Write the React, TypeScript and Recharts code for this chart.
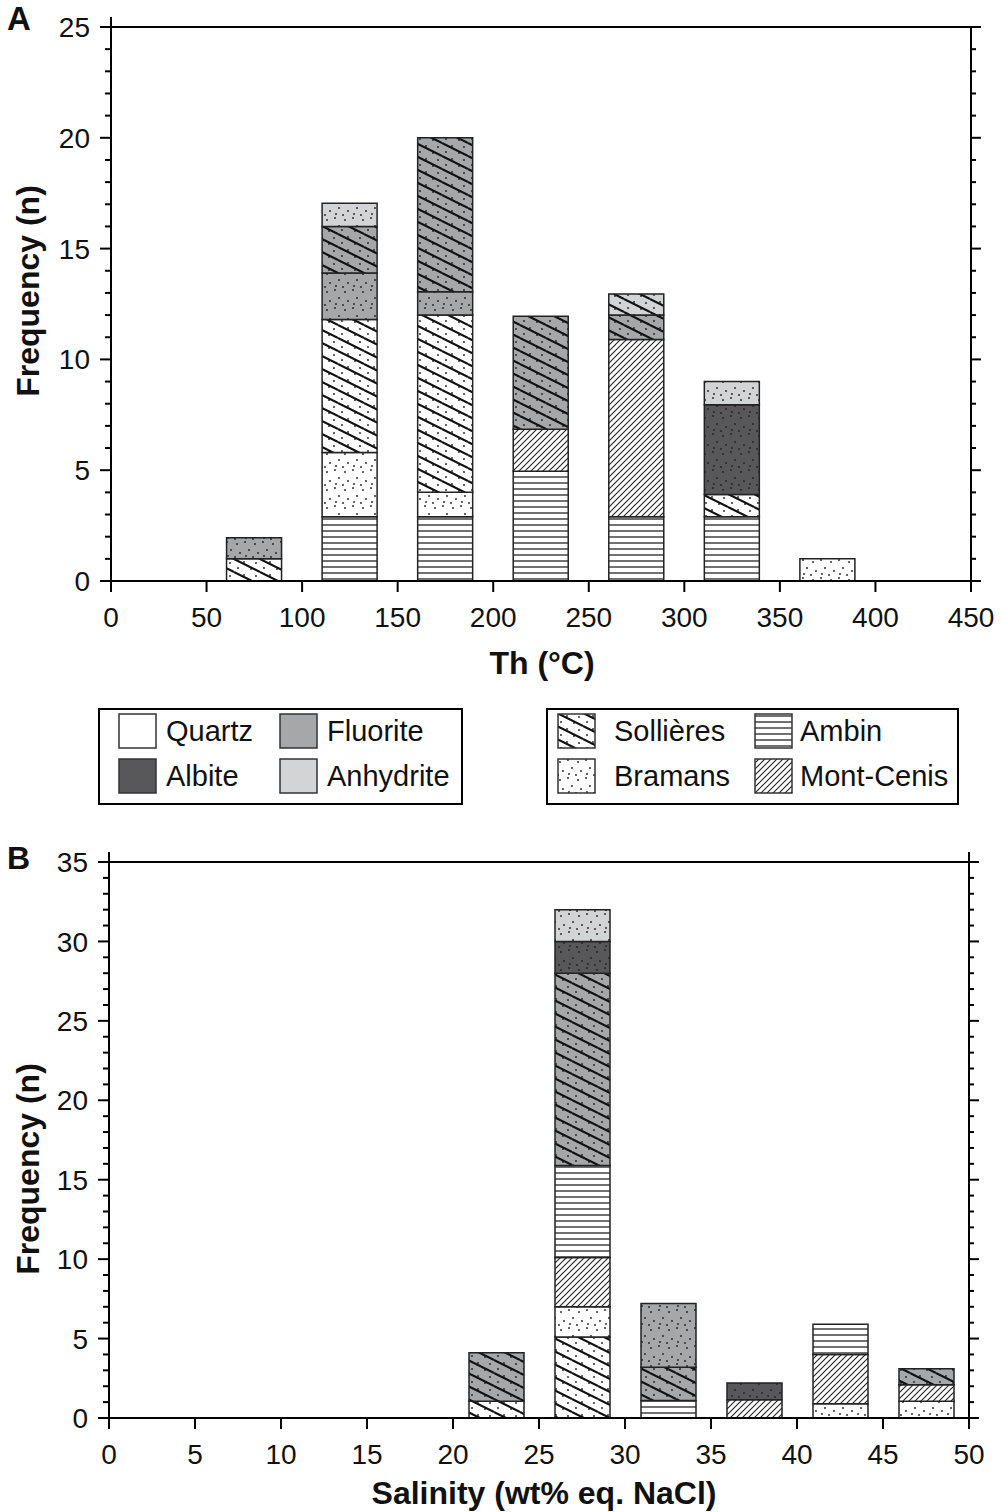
import React from 'react';
import { BarChart, Bar, XAxis, YAxis } from 'recharts';

// Panel A: homogenisation temperature histogram (bin centres, °C)
const thBins = [75, 125, 175, 225, 275, 325, 375];
const thQuartzAmbin = [0, 2.9, 2.9, 4.95, 2.9, 2.9, 0];
const thQuartzBramans = [0, 2.9, 1.1, 0, 0, 0, 1];
const thQuartzSollieres = [1, 6, 8, 0, 0, 1, 0];
const thQuartzMontCenis = [0, 0, 0, 1.9, 8, 0, 0];
const thFluoriteBramans = [0.95, 2.1, 1.05, 0, 0, 0, 0];
const thFluoriteSollieres = [0, 2.1, 6.95, 5.1, 1.1, 0, 0];
const thAlbiteBramans = [0, 0, 0, 0, 0, 4.05, 0];
const thAnhydriteSollieres = [0, 0, 0, 0, 0.95, 0, 0];
const thAnhydriteBramans = [0, 1.05, 0, 0, 0, 1.05, 0];
const thXTicks = [0, 50, 100, 150, 200, 250, 300, 350, 400, 450];
const thYTicks = [0, 1, 2, 3, 4, 5, 6, 7, 8, 9, 10, 11, 12, 13, 14, 15, 16, 17, 18, 19, 20, 21, 22, 23, 24, 25];

// Panel B: salinity histogram (bin centres, wt% eq. NaCl)
const salBins = [22.5, 27.5, 32.5, 37.5, 42.5, 47.5];
const salQuartzSollieres = [1.05, 5.1, 0, 0, 0, 0];
const salQuartzBramans = [0, 1.9, 0, 0, 0.9, 1.05];
const salQuartzMontCenis = [0, 3.1, 0, 1.15, 3.1, 1.05];
const salQuartzAmbin = [0, 5.8, 1.1, 0, 1.9, 0];
const salFluoriteSollieres = [3.05, 12.1, 2.1, 0, 0, 1.0];
const salFluoriteBramans = [0, 0, 4.0, 0, 0, 0];
const salAlbiteBramans = [0, 2, 0, 1.05, 0, 0];
const salAnhydriteBramans = [0, 2, 0, 0, 0, 0];
const salXTicks = [0, 5, 10, 15, 20, 25, 30, 35, 40, 45, 50];
const salYTicks = [0, 1, 2, 3, 4, 5, 6, 7, 8, 9, 10, 11, 12, 13, 14, 15, 16, 17, 18, 19, 20, 21, 22, 23, 24, 25, 26, 27, 28, 29, 30, 31, 32, 33, 34, 35];

const FONT = 'Arial, "Liberation Sans", Helvetica, sans-serif';

const MINERAL_COLORS: Record<string, string> = {
  quartz: '#ffffff',
  fluorite: '#a6a7a9',
  albite: '#58585a',
  anhydrite: '#d3d4d6',
};

// decorative dot positions inside the pattern tiles
const SOL_DOTS = [[4, 9], [10, 3], [17, 10], [22, 4]];
const BRAM_DOTS = [[3, 4], [11, 2], [15, 10], [6, 13], [12, 16], [1, 17]];

const thSeries = [
  { key: 'qAmb', values: thQuartzAmbin, pattern: 'quartz-amb' },
  { key: 'qBram', values: thQuartzBramans, pattern: 'quartz-bram' },
  { key: 'qSol', values: thQuartzSollieres, pattern: 'quartz-sol' },
  { key: 'qMc', values: thQuartzMontCenis, pattern: 'quartz-mc' },
  { key: 'fBram', values: thFluoriteBramans, pattern: 'fluorite-bram' },
  { key: 'fSol', values: thFluoriteSollieres, pattern: 'fluorite-sol' },
  { key: 'aBram', values: thAlbiteBramans, pattern: 'albite-bram' },
  { key: 'anSol', values: thAnhydriteSollieres, pattern: 'anhydrite-sol' },
  { key: 'anBram', values: thAnhydriteBramans, pattern: 'anhydrite-bram' },
];

const salSeries = [
  { key: 'qSol', values: salQuartzSollieres, pattern: 'quartz-sol' },
  { key: 'qBram', values: salQuartzBramans, pattern: 'quartz-bram' },
  { key: 'qMc', values: salQuartzMontCenis, pattern: 'quartz-mc' },
  { key: 'qAmb', values: salQuartzAmbin, pattern: 'quartz-amb' },
  { key: 'fSol', values: salFluoriteSollieres, pattern: 'fluorite-sol' },
  { key: 'fBram', values: salFluoriteBramans, pattern: 'fluorite-bram' },
  { key: 'aBram', values: salAlbiteBramans, pattern: 'albite-bram' },
  { key: 'anBram', values: salAnhydriteBramans, pattern: 'anhydrite-bram' },
];

const buildRows = (bins: number[], series: { key: string; values: number[] }[]) =>
  bins.map((bin, i) => {
    const row: { [k: string]: number } = { bin };
    series.forEach((s) => {
      row[s.key] = s.values[i];
    });
    return row;
  });

const thData = buildRows(thBins, thSeries);
const salData = buildRows(salBins, salSeries);

const PatternDefs = () => (
  <svg width={0} height={0} style={{ position: 'absolute' }}>
    <defs>
      {Object.keys(MINERAL_COLORS).map((m) => (
        <React.Fragment key={m}>
          <pattern id={`${m}-sol`} patternUnits="userSpaceOnUse" width={26} height={13}>
            <rect width={26} height={13} fill={MINERAL_COLORS[m]} />
            {SOL_DOTS.map(([cx, cy], i) => (
              <circle key={i} cx={cx} cy={cy} r={0.95} fill="#222" />
            ))}
            <path d="M0,-13L26,0M0,0L26,13M0,13L26,26" stroke="#111" strokeWidth={2.1} />
          </pattern>
          <pattern id={`${m}-bram`} patternUnits="userSpaceOnUse" width={18} height={18}>
            <rect width={18} height={18} fill={MINERAL_COLORS[m]} />
            {BRAM_DOTS.map(([cx, cy], i) => (
              <circle key={i} cx={cx} cy={cy} r={0.95} fill="#222" />
            ))}
          </pattern>
          <pattern id={`${m}-amb`} patternUnits="userSpaceOnUse" width={6} height={6}>
            <rect width={6} height={6} fill={MINERAL_COLORS[m]} />
            <line x1={0} x2={6} y1={3} y2={3} stroke="#333" strokeWidth={1.4} />
          </pattern>
          <pattern id={`${m}-mc`} patternUnits="userSpaceOnUse" width={6} height={6}>
            <rect width={6} height={6} fill={MINERAL_COLORS[m]} />
            <path d="M-1,1L1,-1M0,6L6,0M5,7L7,5" stroke="#222" strokeWidth={1.1} />
          </pattern>
        </React.Fragment>
      ))}
    </defs>
  </svg>
);

const tickText = { fontFamily: FONT, fontSize: 28, fill: '#111' };

const LeftTick = ({ x, y, payload }: any) => {
  const major = payload.value % 5 === 0;
  return (
    <g>
      <line x1={x - (major ? 11 : 6)} x2={x} y1={y} y2={y} stroke="#000" strokeWidth={2} />
      {major && (
        <text x={x - 21} y={y} dy="0.36em" textAnchor="end" style={tickText}>
          {payload.value}
        </text>
      )}
    </g>
  );
};

const RightTick = ({ x, y, payload }: any) => {
  const major = payload.value % 5 === 0;
  return <line x1={x} x2={x + (major ? 10 : 5)} y1={y} y2={y} stroke="#000" strokeWidth={2} />;
};

const BottomTick = ({ x, y, payload }: any) => (
  <g>
    <line x1={x} x2={x} y1={y} y2={y + 11} stroke="#000" strokeWidth={2} />
    <text x={x} y={y + 36} dy="0.36em" textAnchor="middle" style={tickText}>
      {payload.value}
    </text>
  </g>
);

const TopTick = ({ x, y }: any) => <line x1={x} x2={x} y1={y - 10} y2={y} stroke="#000" strokeWidth={2} />;

const axisLine = { stroke: '#000', strokeWidth: 2 };

interface HistProps {
  data: { [k: string]: number }[];
  series: { key: string; pattern: string }[];
  xDomain: [number, number];
  yDomain: [number, number];
  xTicks: number[];
  yTicks: number[];
  height: number;
  margin: { top: number; right: number; bottom: number; left: number };
  yAxisWidth: number;
  stackId: string;
}

const Histogram = ({ data, series, xDomain, yDomain, xTicks, yTicks, height, margin, yAxisWidth, stackId }: HistProps) => (
  <BarChart width={1001} height={height} data={data} margin={margin} barGap={0}>
    <XAxis
      dataKey="bin"
      type="number"
      domain={xDomain}
      ticks={xTicks}
      interval={0}
      allowDataOverflow
      height={80}
      tickSize={0}
      tickMargin={0}
      axisLine={axisLine}
      tick={<BottomTick />}
    />
    <XAxis
      xAxisId="top"
      orientation="top"
      type="number"
      domain={xDomain}
      ticks={xTicks}
      interval={0}
      allowDataOverflow
      height={15}
      tickSize={0}
      tickMargin={0}
      axisLine={axisLine}
      tick={<TopTick />}
    />
    <YAxis
      type="number"
      domain={yDomain}
      ticks={yTicks}
      interval={0}
      allowDataOverflow
      width={yAxisWidth}
      tickSize={0}
      tickMargin={0}
      axisLine={axisLine}
      tick={<LeftTick />}
    />
    <YAxis
      yAxisId="right"
      orientation="right"
      type="number"
      domain={yDomain}
      ticks={yTicks}
      interval={0}
      allowDataOverflow
      width={15}
      tickSize={0}
      tickMargin={0}
      axisLine={axisLine}
      tick={<RightTick />}
    />
    {series.map((s) => (
      <Bar
        key={s.key}
        dataKey={s.key}
        stackId={stackId}
        fill={`url(#${s.pattern})`}
        stroke="#222"
        strokeWidth={1.5}
        barSize={55}
        isAnimationActive={false}
      />
    ))}
  </BarChart>
);

const legendText: React.CSSProperties = {
  position: 'absolute',
  fontFamily: FONT,
  fontSize: 29,
  color: '#111',
  lineHeight: '32px',
  whiteSpace: 'nowrap',
};

const Swatch = ({ left, top, fill }: { left: number; top: number; fill: string }) => (
  <svg width={39} height={36} style={{ position: 'absolute', left, top }}>
    <rect x={1} y={1} width={37} height={34} fill={fill} stroke="#333" strokeWidth={1.5} />
  </svg>
);

const mineralLegend = [
  { label: 'Quartz', fill: MINERAL_COLORS.quartz, sx: 118, tx: 166, row: 0 },
  { label: 'Fluorite', fill: MINERAL_COLORS.fluorite, sx: 279, tx: 327, row: 0 },
  { label: 'Albite', fill: MINERAL_COLORS.albite, sx: 118, tx: 166, row: 1 },
  { label: 'Anhydrite', fill: MINERAL_COLORS.anhydrite, sx: 279, tx: 327, row: 1 },
];

const localityLegend = [
  { label: 'Sollières', fill: 'url(#quartz-sol)', sx: 557, tx: 614, row: 0 },
  { label: 'Ambin', fill: 'url(#quartz-amb)', sx: 754, tx: 800, row: 0 },
  { label: 'Bramans', fill: 'url(#quartz-bram)', sx: 557, tx: 614, row: 1 },
  { label: 'Mont-Cenis', fill: 'url(#quartz-mc)', sx: 754, tx: 800, row: 1 },
];

const ROW_TOP = [713, 758];

const axisTitle: React.CSSProperties = {
  position: 'absolute',
  fontFamily: FONT,
  fontWeight: 'bold',
  fontSize: 32,
  color: '#111',
  whiteSpace: 'nowrap',
  lineHeight: '36px',
};

export default function App() {
  return (
    <div style={{ position: 'absolute', left: 0, top: 0, width: 1001, height: 1512, background: '#fff', fontFamily: FONT }}>
      <PatternDefs />

      <div style={{ position: 'absolute', left: 0, top: 0 }}>
        <Histogram
          data={thData}
          series={thSeries}
          xDomain={[0, 450]}
          yDomain={[0, 25]}
          xTicks={thXTicks}
          yTicks={thYTicks}
          height={700}
          margin={{ top: 12, right: 15, bottom: 39, left: 0 }}
          yAxisWidth={111}
          stackId="th"
        />
      </div>

      <div style={{ position: 'absolute', left: 0, top: 840 }}>
        <Histogram
          data={salData}
          series={salSeries}
          xDomain={[0, 50]}
          yDomain={[0, 35]}
          xTicks={salXTicks}
          yTicks={salYTicks}
          height={672}
          margin={{ top: 7, right: 17, bottom: 14, left: 0 }}
          yAxisWidth={109}
          stackId="sal"
        />
      </div>

      {/* panel letters */}
      <div style={{ ...axisTitle, fontSize: 33, left: 7, top: 1 }}>A</div>
      <div style={{ ...axisTitle, fontSize: 32, left: 7, top: 840 }}>B</div>

      {/* axis titles */}
      <div style={{ ...axisTitle, left: 542, top: 663, transform: 'translate(-50%, -50%)' }}>Th (°C)</div>
      <div style={{ ...axisTitle, left: 28, top: 291, transform: 'translate(-50%, -50%) rotate(-90deg)' }}>Frequency (n)</div>
      <div style={{ ...axisTitle, left: 544, top: 1493, transform: 'translate(-50%, -50%)' }}>Salinity (wt% eq. NaCl)</div>
      <div style={{ ...axisTitle, left: 28, top: 1169, transform: 'translate(-50%, -50%) rotate(-90deg)' }}>Frequency (n)</div>

      {/* legends */}
      <div style={{ position: 'absolute', left: 98, top: 708, width: 365, height: 97, border: '2px solid #000', boxSizing: 'border-box' }} />
      <div style={{ position: 'absolute', left: 546, top: 708, width: 413, height: 97, border: '2px solid #000', boxSizing: 'border-box' }} />
      {[...mineralLegend, ...localityLegend].map((item) => (
        <React.Fragment key={item.label}>
          <Swatch left={item.sx} top={ROW_TOP[item.row]} fill={item.fill} />
          <div style={{ ...legendText, left: item.tx, top: ROW_TOP[item.row] + 2 }}>{item.label}</div>
        </React.Fragment>
      ))}
    </div>
  );
}
